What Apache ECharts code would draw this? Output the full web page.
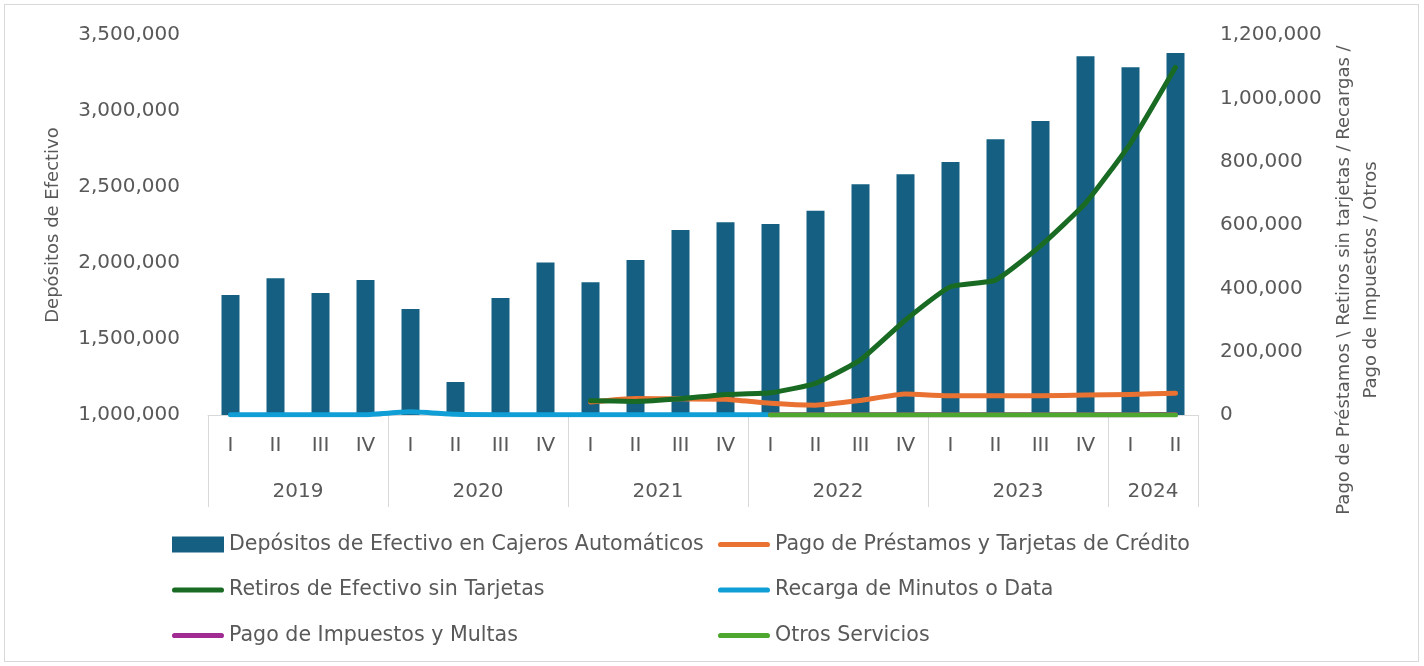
<!DOCTYPE html>
<html>
<head>
<meta charset="utf-8">
<script src="https://cdn.jsdelivr.net/npm/echarts@6/dist/echarts.min.js"></script>
<style>
  html, body { margin: 0; padding: 0; background: #ffffff; }
  #chart { position: absolute; left: 0; top: 0; width: 1424px; height: 666px; }
  #frame { position: absolute; left: 4px; top: 4px; width: 1413px; height: 656px;
           border: 1px solid #d9d9d9; pointer-events: none; }
</style>
</head>
<body>
<div id="chart"></div>
<div id="frame"></div>
<script>
// Quarterly operations at ATMs, 2019 - 2024 (II)
const years = ['2019', '2020', '2021', '2022', '2023', '2024'];
const quartersPerYear = [4, 4, 4, 4, 4, 2];
const quarterNames = ['I', 'II', 'III', 'IV'];

// Left axis: cash deposits
const depositos = [1790000, 1899000, 1803000, 1888000, 1697000, 1217000, 1770000, 2004000,
                   1873000, 2020000, 2217000, 2268000, 2257000, 2344000, 2518000, 2584000,
                   2664000, 2814000, 2934000, 3360000, 3288000, 3382000];

// Right axis series
const prestamos = [null, null, null, null, null, null, null, null,
                   41000, 52000, 51000, 50000, 37000, 31000, 46000, 66000,
                   61000, 61000, 61000, 63000, 65000, 69000];
const retiros = [null, null, null, null, null, null, null, null,
                 45000, 43000, 51000, 65000, 70000, 100000, 174000, 300000,
                 405000, 426000, 534000, 669000, 858000, 1098000];
const recargas = [1000, 1000, 1000, 1000, 10000, 2000, 1000, 1000,
                  1000, 1000, 1000, 1000, 1000, null, null, null,
                  null, null, null, null, null, null];
const impuestos = [null, null, null, null, null, null, null, null,
                   null, null, null, null, 1000, 1000, 1000, 1000,
                   1000, 1000, 1000, 1000, 1000, 1500];
const otros = [null, null, null, null, null, null, null, null,
               null, null, null, null, 300, 300, 300, 300,
               300, 300, 300, 300, 300, 300];

const leftTicks = { min: 1000000, max: 3500000, step: 500000 };
const rightTicks = { min: 0, max: 1200000, step: 200000 };

const seriesNames = [
  'Depósitos de Efectivo en Cajeros Automáticos',
  'Pago de Préstamos y Tarjetas de Crédito',
  'Retiros de Efectivo sin Tarjetas',
  'Recarga de Minutos o Data',
  'Pago de Impuestos y Multas',
  'Otros Servicios'
];
const leftTitle = 'Depósitos de Efectivo';
const rightTitle = 'Pago de Préstamos \\ Retiros sin tarjetas / Recargas /\nPago de Impuestos / Otros';

// Quarter categories and year group boundaries/centres (in quarter units)
const quarterLabels = [];
const yearBounds = [0];
const yearCenters = [];
quartersPerYear.forEach((n) => {
  for (let q = 0; q < n; q++) quarterLabels.push(quarterNames[q]);
  const start = yearBounds[yearBounds.length - 1];
  yearCenters.push(start + n / 2);
  yearBounds.push(start + n);
});
const totalQuarters = yearBounds[yearBounds.length - 1];

const FONT = 'DejaVu Sans';
const TXT = '#595959';
const GRIDLINE = '#d9d9d9';
const fmt = v => Number(v).toLocaleString('en-US');

const colors = ['#156082', '#E97132', '#196B24', '#0F9ED5', '#A02B93', '#4EA72E'];

// Legend key shapes: a solid block for the bars, a thick rounded stroke for the lines
const barKey = 'rect';
const lineKey = 'path://M0,0 L0.01,0 L0,0 Z ' +
                'M2.6,5.4 L49.4,5.4 A2.6,2.6 0 0 1 49.4,10.6 L2.6,10.6 A2.6,2.6 0 0 1 2.6,5.4 Z ' +
                'M0,16 L0.01,16 L0,16 Z';

const lineSeries = (name, data, color) => ({
  name, type: 'line', data, xAxisIndex: 0, yAxisIndex: 1,
  symbol: 'none', smooth: 0.15, connectNulls: false,
  lineStyle: { width: 5, color, cap: 'round', join: 'round' },
  itemStyle: { color }
});

const legendBlock = (left, names) => ({
  orient: 'vertical', left, top: 534, padding: 0, itemGap: 24.5,
  itemWidth: 52, itemHeight: 16,
  textStyle: { color: TXT, fontSize: 20.6, fontFamily: FONT, lineHeight: 20 },
  data: names.map(n => ({ name: n, icon: n === seriesNames[0] ? barKey : lineKey }))
});

const chart = echarts.init(document.getElementById('chart'), null, { renderer: 'canvas' });
chart.setOption({
  animation: false,
  backgroundColor: '#ffffff',
  textStyle: { fontFamily: FONT },
  grid: { left: 208, right: 226, top: 35, bottom: 251, containLabel: false },
  xAxis: [
    {
      type: 'category', data: quarterLabels, position: 'bottom', boundaryGap: true,
      axisLine: { show: true, lineStyle: { color: GRIDLINE, width: 1 } },
      axisTick: { show: false },
      axisLabel: { color: TXT, fontSize: 20, fontFamily: FONT, margin: 21, interval: 0 },
      splitLine: { show: false }
    },
    {
      type: 'value', min: 0, max: totalQuarters, position: 'bottom',
      axisLine: { show: false },
      splitLine: { show: false },
      axisTick: { show: true, customValues: yearBounds, length: 92, inside: false,
                  lineStyle: { color: GRIDLINE, width: 1 } },
      axisLabel: { show: true, customValues: yearCenters, margin: 67,
                   formatter: v => years[yearCenters.indexOf(v)],
                   color: TXT, fontSize: 20, fontFamily: FONT }
    }
  ],
  yAxis: [
    {
      type: 'value', position: 'left',
      min: leftTicks.min, max: leftTicks.max, interval: leftTicks.step,
      axisLine: { show: false }, axisTick: { show: false }, splitLine: { show: false },
      axisLabel: { color: TXT, fontSize: 20, fontFamily: FONT, margin: 28, formatter: fmt },
      name: leftTitle, nameLocation: 'middle', nameRotate: 90, nameGap: 146,
      nameTextStyle: { color: TXT, fontSize: 18, fontFamily: FONT }
    },
    {
      type: 'value', position: 'right',
      min: rightTicks.min, max: rightTicks.max, interval: rightTicks.step,
      axisLine: { show: false }, axisTick: { show: false }, splitLine: { show: false },
      axisLabel: { color: TXT, fontSize: 20, fontFamily: FONT, margin: 22, formatter: fmt }
    }
  ],
  legend: [
    legendBlock(172, [seriesNames[0], seriesNames[2], seriesNames[4]]),
    legendBlock(718, [seriesNames[1], seriesNames[3], seriesNames[5]])
  ],
  graphic: [
    {
      type: 'text', x: 1358, y: 280, rotation: Math.PI / 2,
      style: {
        text: rightTitle, align: 'center', verticalAlign: 'middle',
        fill: TXT, fontSize: 18, fontFamily: FONT, lineHeight: 27
      }
    }
  ],
  series: [
    {
      name: seriesNames[0], type: 'bar', data: depositos, xAxisIndex: 0, yAxisIndex: 0,
      barWidth: '40%', itemStyle: { color: colors[0] }
    },
    lineSeries(seriesNames[1], prestamos, colors[1]),
    lineSeries(seriesNames[2], retiros, colors[2]),
    lineSeries(seriesNames[3], recargas, colors[3]),
    lineSeries(seriesNames[4], impuestos, colors[4]),
    lineSeries(seriesNames[5], otros, colors[5])
  ]
});
</script>
</body>
</html>
